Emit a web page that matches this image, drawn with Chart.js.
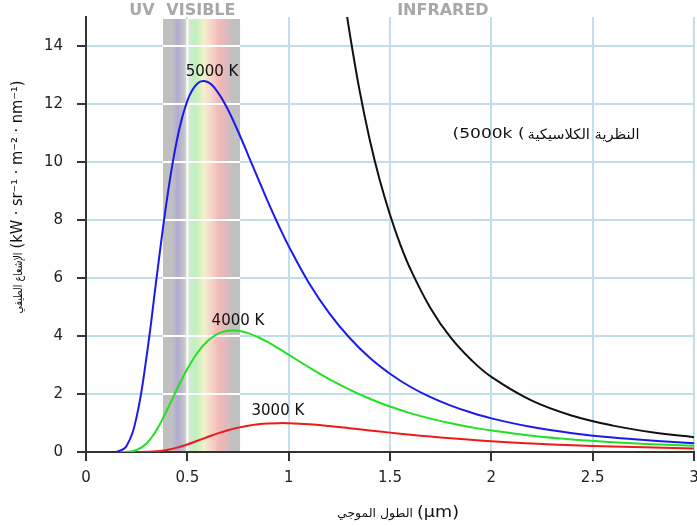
<!DOCTYPE html>
<html>
<head>
<meta charset="utf-8">
<script src="https://cdn.jsdelivr.net/npm/chart.js@4/dist/chart.umd.min.js"></script>
<style>
  html, body { margin: 0; padding: 0; background: #fff; }
  canvas { display: block; }
</style>
</head>
<body>
<canvas id="chart" width="697" height="526"></canvas>
<script>
'use strict';

// wavelengths (µm) shared by the three Planck curves
var wavelengths = [0.05, 0.1, 0.15, 0.2, 0.25, 0.3, 0.35, 0.4, 0.45, 0.5, 0.55, 0.6, 0.65, 0.7, 0.75,
    0.8, 0.85, 0.9, 0.95, 1.0, 1.1, 1.2, 1.3, 1.4, 1.5, 1.6, 1.7, 1.8, 1.9, 2.0, 2.2, 2.4, 2.6, 2.8, 3.0];

var radiance5000 = [0, 0, 0.007, 0.21, 1.22, 3.35, 6.10, 8.74, 10.80, 12.11, 12.71, 12.76, 12.41, 11.81, 11.06,
    10.24, 9.41, 8.59, 7.82, 7.10, 5.83, 4.79, 3.94, 3.25, 2.70, 2.25, 1.89, 1.60, 1.36, 1.16, 0.86, 0.65, 0.50, 0.39, 0.30];

var radiance4000 = [0, 0, 0.0001, 0.006, 0.069, 0.304, 0.780, 1.446, 2.180, 2.865, 3.423, 3.825, 4.072, 4.181, 4.181,
    4.099, 3.957, 3.776, 3.572, 3.356, 2.922, 2.514, 2.152, 1.837, 1.568, 1.341, 1.150, 0.988, 0.853, 0.739, 0.560, 0.430, 0.335, 0.265, 0.212];

var radiance3000 = [0, 0, 0, 0.0001, 0.0006, 0.0056, 0.025, 0.072, 0.152, 0.260, 0.387, 0.517, 0.642, 0.751, 0.840,
    0.908, 0.955, 0.983, 0.995, 0.992, 0.957, 0.896, 0.822, 0.745, 0.668, 0.597, 0.531, 0.472, 0.419, 0.372, 0.295, 0.235, 0.188, 0.152, 0.124];

// classical (Rayleigh-Jeans) curve at 5000 K
var classicalWavelengths = [1.28, 1.3, 1.35, 1.4, 1.45, 1.5, 1.55, 1.6, 1.7, 1.8, 1.9, 2.0, 2.2, 2.4, 2.6, 2.8, 3.0];
var classical5000 = [15.42, 14.49, 12.46, 10.77, 9.36, 8.18, 7.17, 6.32, 4.96, 3.94, 3.18, 2.59, 1.77, 1.25, 0.91, 0.67, 0.51];

var visibleBand = [0.38, 0.76];
var curveLabels = [
    { text: '5000 K', x: 0.622, y: 13.1 },
    { text: '4000 K', x: 0.75, y: 4.52 },
    { text: '3000 K', x: 0.947, y: 1.41 }
];
// the classical label is drawn as two runs so the brackets stay as in the original
var classicalLabel = { latin: '(5000k (', arabic: 'النظرية الكلاسيكية', x: 2.27, y: 10.95 };
var regionLabels = [
    { text: 'UV', x: 0.276 },
    { text: 'VISIBLE', x: 0.567 },
    { text: 'INFRARED', x: 1.761 }
];

var FONT = '"DejaVu Sans", sans-serif';

function toPoints(xs, ys) {
    return xs.map(function(x, i) { return { x: x, y: ys[i] }; });
}

function curve(label, color, xs, ys) {
    return {
        label: label,
        data: toPoints(xs, ys),
        borderColor: color,
        borderWidth: 2,
        pointRadius: 0,
        fill: false,
        tension: 0.4
    };
}

// draw text squeezed/stretched to a given width, left edge at x
function fitText(ctx, text, font, x, y, width) {
    ctx.font = font;
    var w = ctx.measureText(text).width;
    ctx.save();
    ctx.translate(x, y);
    ctx.scale(width / w, 1);
    ctx.textAlign = 'left';
    ctx.fillText(text, 0, 0);
    ctx.restore();
}

var extras = {
    id: 'extras',
    beforeDatasetsDraw: function(chart) {
        var ctx = chart.ctx, area = chart.chartArea;
        var xs = chart.scales.x, ys = chart.scales.y;
        var x0 = xs.getPixelForValue(visibleBand[0]);
        var x1 = xs.getPixelForValue(visibleBand[1]);
        var top = area.top + 2, bottom = area.bottom - 1;
        ctx.save();
        ctx.fillStyle = '#c0c0c0';
        ctx.fillRect(x0, top, x1 - x0, bottom - top);

        // faint spectrum across the band
        var g = ctx.createLinearGradient(x0, 0, x1, 0);
        g.addColorStop(0.00, 'rgba(192,192,192,1)');
        g.addColorStop(0.12, 'rgba(192,192,192,1)');
        g.addColorStop(0.19, 'rgba(178,170,212,1)');
        g.addColorStop(0.26, 'rgba(192,192,200,1)');
        g.addColorStop(0.33, 'rgba(215,232,215,1)');
        g.addColorStop(0.42, 'rgba(190,240,190,1)');
        g.addColorStop(0.53, 'rgba(240,242,200,1)');
        g.addColorStop(0.62, 'rgba(245,215,200,1)');
        g.addColorStop(0.72, 'rgba(244,185,185,1)');
        g.addColorStop(0.82, 'rgba(225,185,185,1)');
        g.addColorStop(0.90, 'rgba(192,192,192,1)');
        g.addColorStop(1.00, 'rgba(192,192,192,1)');
        ctx.fillStyle = g;
        ctx.fillRect(x0, top, x1 - x0, bottom - top);

        // grid shows white inside the band
        ctx.strokeStyle = '#ffffff';
        ctx.lineWidth = 2;
        ctx.beginPath();
        xs.ticks.forEach(function(t) {
            var px = xs.getPixelForValue(t.value);
            if (t.value > 0 && px > x0 && px < x1) {
                ctx.moveTo(px, top);
                ctx.lineTo(px, bottom);
            }
        });
        ys.ticks.forEach(function(t) {
            if (t.value > 0) {
                var py = ys.getPixelForValue(t.value);
                ctx.moveTo(x0, py);
                ctx.lineTo(x1, py);
            }
        });
        ctx.stroke();
        ctx.restore();
    },
    afterDatasetsDraw: function(chart) {
        var ctx = chart.ctx, area = chart.chartArea;
        var xs = chart.scales.x, ys = chart.scales.y;
        ctx.save();
        ctx.textAlign = 'center';
        ctx.textBaseline = 'middle';
        ctx.direction = 'ltr';

        ctx.fillStyle = '#111';
        ctx.font = '15px ' + FONT;
        curveLabels.forEach(function(l) {
            ctx.fillText(l.text, xs.getPixelForValue(l.x), ys.getPixelForValue(l.y));
        });
        var lx = xs.getPixelForValue(classicalLabel.x) - 187 / 2;
        var ly = ys.getPixelForValue(classicalLabel.y);
        fitText(ctx, classicalLabel.latin, '14px ' + FONT, lx, ly, 72);
        fitText(ctx, classicalLabel.arabic, '14px ' + FONT, lx + 75, ly + 1, 112);

        ctx.fillStyle = '#a8a8a8';
        ctx.font = 'bold 16px ' + FONT;
        regionLabels.forEach(function(l) {
            ctx.fillText(l.text, xs.getPixelForValue(l.x), area.top - 6);
        });

        // axis titles: small arabic part + larger unit part
        ctx.fillStyle = '#111';
        drawTitle(ctx, 'الطول الموجي', 76, '(µm)', 42, 398, 513, 0);
        drawTitle(ctx, 'الإشعاع الطيفي', 61, '(kW · sr⁻¹ · m⁻² · nm⁻¹)', 168, 18, 197, -Math.PI / 2);
        ctx.restore();
    }
};

function drawTitle(ctx, arabic, w1, unit, w2, cx, cy, rot) {
    var gap = 4;
    ctx.save();
    ctx.translate(cx, cy);
    ctx.rotate(rot);
    ctx.textBaseline = 'middle';
    var start = -(w1 + gap + w2) / 2;
    fitText(ctx, arabic, '12px ' + FONT, start, 1, w1);
    fitText(ctx, unit, '16px ' + FONT, start + w1 + gap, 0, w2);
    ctx.restore();
}

var gridColor = '#bfe0eb';

function gridLine(c) {
    return c.tick && c.tick.value === 0 ? 'rgba(0,0,0,0)' : gridColor;
}

new Chart(document.getElementById('chart'), {
    type: 'line',
    data: {
        datasets: [
            curve('classical', '#111111', classicalWavelengths, classical5000),
            curve('5000 K', '#1a1aee', wavelengths, radiance5000),
            curve('4000 K', '#22e022', wavelengths, radiance4000),
            curve('3000 K', '#f01818', wavelengths, radiance3000)
        ]
    },
    options: {
        responsive: false,
        animation: false,
        devicePixelRatio: 1,
        layout: { padding: { top: 17, right: 3, left: 0, bottom: 0 } },
        plugins: {
            legend: { display: false },
            tooltip: { enabled: false }
        },
        scales: {
            x: {
                type: 'linear',
                min: 0,
                max: 3,
                ticks: {
                    stepSize: 0.5,
                    padding: 8,
                    color: '#222',
                    font: { size: 15, family: FONT },
                    maxRotation: 0,
                    callback: function(v) { return String(v); }
                },
                grid: { color: gridLine, lineWidth: 2, tickColor: '#333', tickLength: 9, tickWidth: 2 },
                border: { color: '#333', width: 2 },
                afterFit: function(scale) {
                    scale.height = 74;
                    scale.paddingLeft = 0;
                    scale.paddingRight = 0;
                }
            },
            y: {
                type: 'linear',
                min: 0,
                max: 15,
                ticks: {
                    stepSize: 2,
                    padding: 14,
                    color: '#222',
                    font: { size: 15, family: FONT }
                },
                afterBuildTicks: function(scale) {
                    scale.ticks = scale.ticks.filter(function(t) { return t.value <= 14; });
                },
                grid: { color: gridLine, lineWidth: 2, tickColor: '#333', tickLength: 9, tickWidth: 2 },
                border: { color: '#333', width: 2 },
                afterFit: function(scale) {
                    scale.width = 86;
                    scale.paddingTop = 0;
                    scale.paddingBottom = 0;
                }
            }
        }
    },
    plugins: [extras]
});
</script>
</body>
</html>
